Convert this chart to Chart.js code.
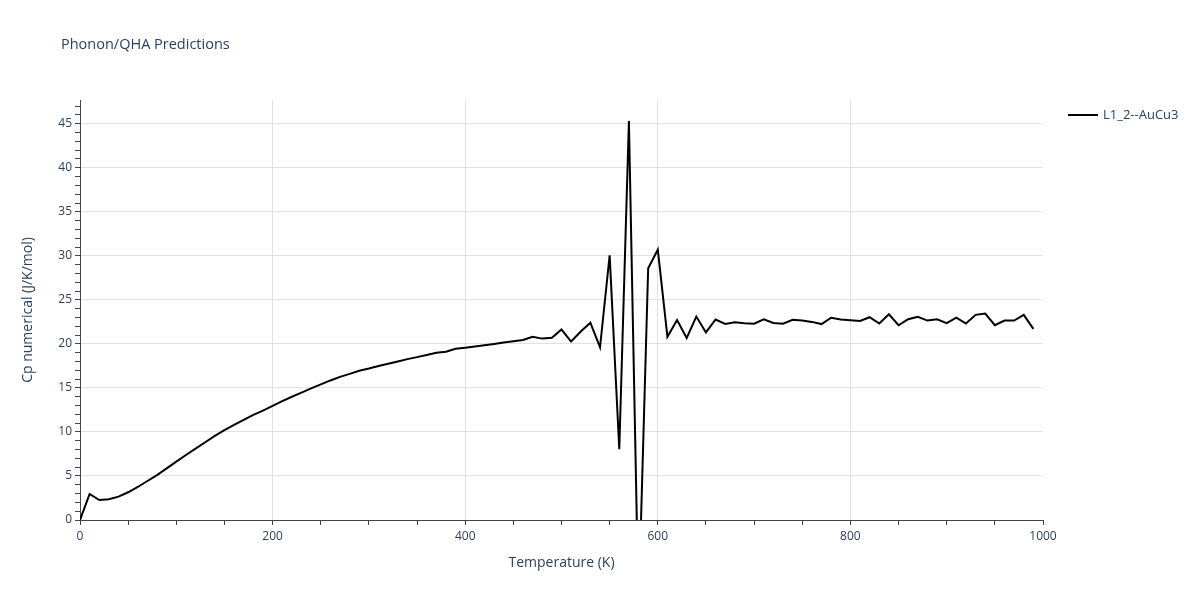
<!DOCTYPE html>
<html>
<head>
<meta charset="utf-8">
<script src="https://cdn.jsdelivr.net/npm/chart.js@4/dist/chart.umd.min.js"></script>
<style>
  body{margin:0;background:#fff}
  #wrap{width:1200px;height:600px;position:relative}
</style>
</head>
<body>
<div id="wrap"><canvas id="cp"></canvas></div>
<script>
// temperatures in K, every 10 K
const temps = [];
for (let t = 0; t <= 990; t += 10) temps.push(t);

// Cp numerical (J/K/mol)
const cpVals = [
  0, 2.95, 2.27, 2.35, 2.65, 3.15, 3.75, 4.43, 5.1, 5.87,
  6.63, 7.38, 8.1, 8.83, 9.55, 10.2, 10.8, 11.36, 11.93, 12.43,
  12.95, 13.5, 14.0, 14.47, 14.95, 15.4, 15.85, 16.25, 16.6, 16.95,
  17.2, 17.5, 17.75, 18.0, 18.27, 18.5, 18.75, 19.0, 19.12, 19.45,
  19.57, 19.7, 19.85, 20.0, 20.15, 20.3, 20.45, 20.8, 20.6, 20.7,
  21.63, 20.27, 21.4, 22.4, 19.6, 30.07, 8.03, 45.3, -10, 28.6,
  30.7, 20.8, 22.7, 20.68, 23.1, 21.3, 22.77, 22.27, 22.46, 22.35,
  22.3, 22.8, 22.38, 22.3, 22.73, 22.65, 22.5, 22.25, 22.97, 22.77,
  22.69, 22.6, 23.03, 22.31, 23.37, 22.12, 22.8, 23.07, 22.65, 22.8,
  22.35, 22.99, 22.31, 23.3, 23.45, 22.12, 22.65, 22.65, 23.3, 21.7
];

const seriesName = 'L1_2--AuCu3';
const chartTitle = 'Phonon/QHA Predictions';
const xLabels = [0, 200, 400, 600, 800, 1000];
const yLabels = [0, 5, 10, 15, 20, 25, 30, 35, 40, 45];

const txt = '#2a3f5f', axisCol = '#444', gridCol = '#e1e1e1';
const fam = '"Open Sans", verdana, arial, sans-serif';

// title + legend drawn on the canvas
const extras = {
  id: 'extras',
  afterDraw(chart){
    const c = chart.ctx;
    c.save();
    c.fillStyle = txt;
    c.font = '14.5px ' + fam;
    c.textBaseline = 'middle';
    c.textAlign = 'left';
    c.fillText(chartTitle, 61, 45);
    c.strokeStyle = '#000'; c.lineWidth = 2;
    c.beginPath(); c.moveTo(1068, 115); c.lineTo(1098, 115); c.stroke();
    c.font = '13px ' + fam;
    c.fillText(seriesName, 1103, 115);
    c.restore();
  }
};

new Chart(document.getElementById('cp'), {
  type: 'line',
  data: {
    datasets: [{
      label: seriesName,
      data: temps.map((t, i) => ({x: t, y: cpVals[i]})),
      borderColor: '#000', borderWidth: 2, pointRadius: 0, tension: 0, fill: false
    }]
  },
  options: {
    responsive: true, maintainAspectRatio: false, animation: false,
    layout: {padding: {left: 0, top: 100, right: 157, bottom: 0}},
    plugins: {legend: {display: false}, title: {display: false}, tooltip: {enabled: false}},
    scales: {
      x: {
        type: 'linear', min: 0, max: 1000,
        afterFit(s){ s.height = 80; },
        border: {color: axisCol, width: 1},
        grid: {
          color: c => (xLabels.includes(c.tick.value) && c.tick.value > 0 && c.tick.value < 1000) ? gridCol : 'rgba(0,0,0,0)',
          tickColor: axisCol, tickLength: 5
        },
        ticks: {
          stepSize: 50, autoSkip: false, maxRotation: 0, padding: 4,
          color: txt, font: {family: fam, size: 12},
          callback: v => xLabels.includes(v) ? String(v) : ''
        },
        title: {display: true, text: 'Temperature (K)', color: txt, font: {family: fam, size: 14}, padding: {top: 0, bottom: 29}}
      },
      y: {
        min: 0, max: 47.7,
        afterFit(s){ s.width = 80; },
        border: {color: axisCol, width: 1},
        grid: {
          color: c => (yLabels.includes(c.tick.value) && c.tick.value > 0) ? gridCol : 'rgba(0,0,0,0)',
          tickColor: axisCol, tickLength: 5
        },
        ticks: {
          stepSize: 1, autoSkip: false, includeBounds: false, padding: 3,
          color: txt, font: {family: fam, size: 12},
          callback: v => yLabels.includes(v) ? String(v) : ''
        },
        title: {display: true, text: 'Cp numerical (J/K/mol)', color: txt, font: {family: fam, size: 14}, padding: {top: 20, bottom: 0}}
      }
    }
  },
  plugins: [extras]
});
</script>
</body>
</html>
